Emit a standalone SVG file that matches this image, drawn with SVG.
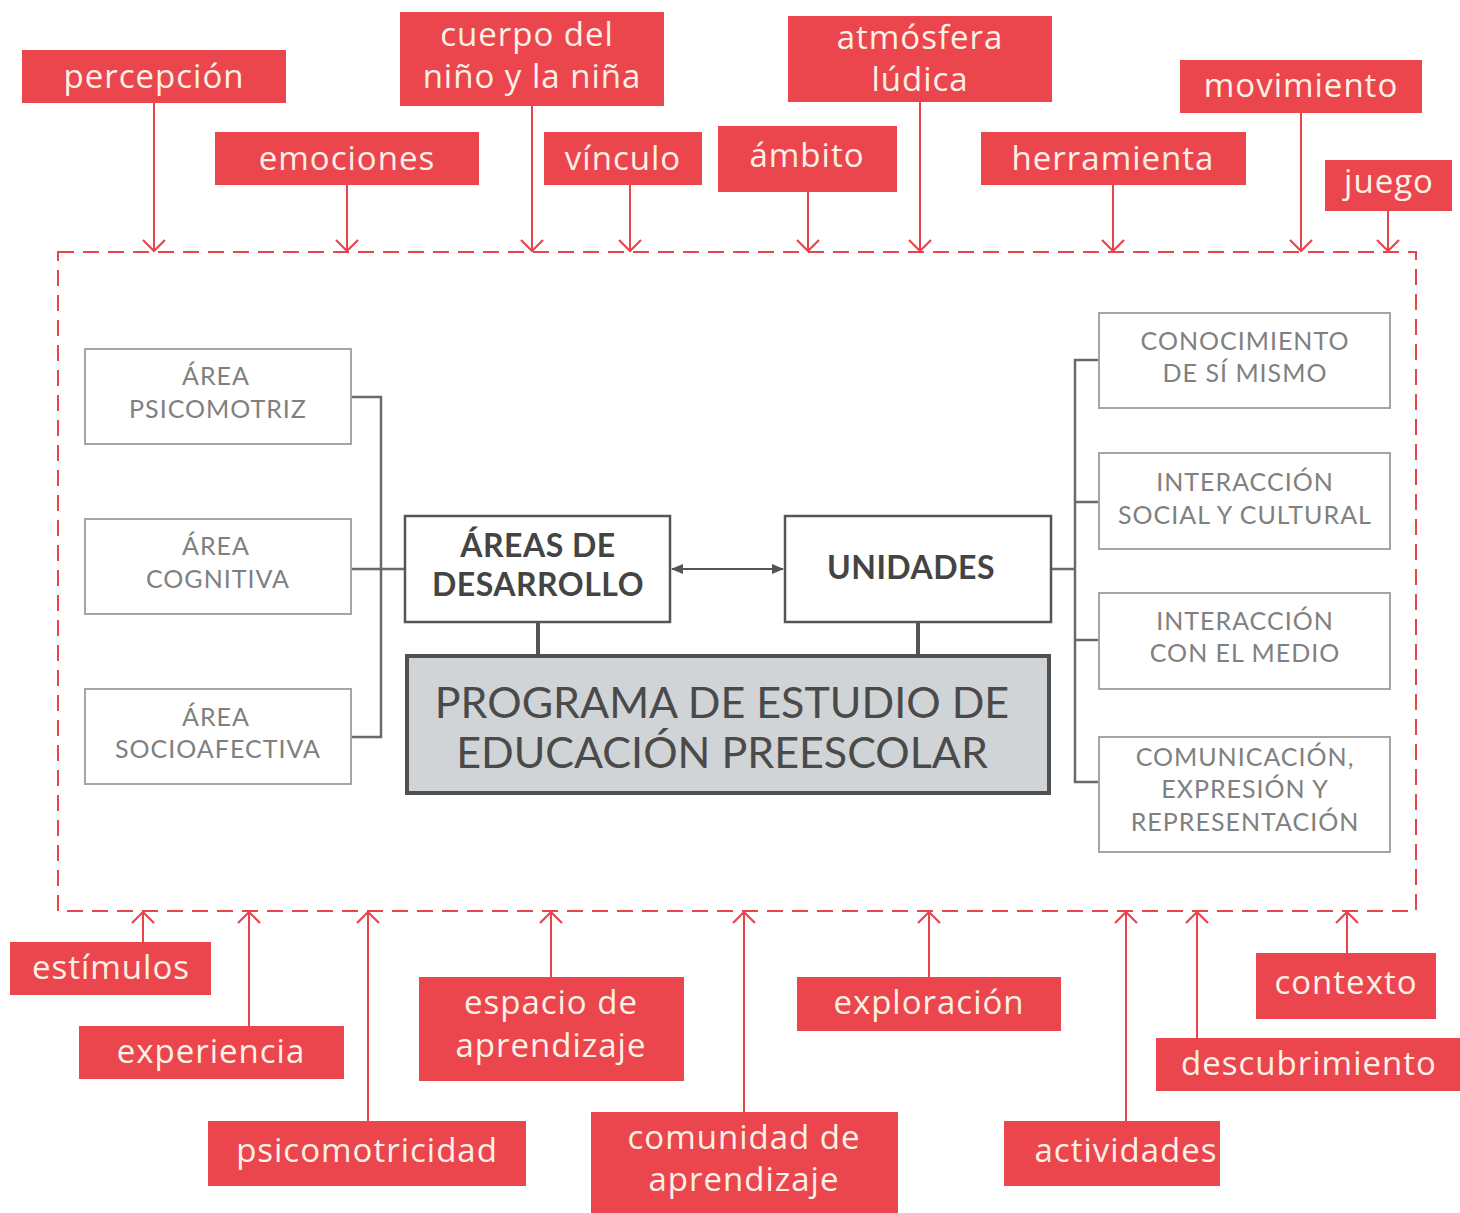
<svg xmlns="http://www.w3.org/2000/svg" width="1460" height="1213" viewBox="0 0 1460 1213">
<defs>
<style>
.lbl rect{fill:#EB464E}
.lbl text{fill:#FCF1E6;font-family:"Open Sans",Lato,sans-serif;font-size:33px;letter-spacing:1px;text-anchor:middle}
.gbox rect{fill:#fff;stroke:#A5A5A5;stroke-width:2}
.gbox text{fill:#808080;font-family:Lato,"Noto Sans",sans-serif;font-size:25px;letter-spacing:1px;text-anchor:middle}
.cbox rect{fill:#fff;stroke:#555;stroke-width:2.5}
.cbox text{fill:#444;font-family:Lato,"Noto Sans",sans-serif;font-weight:bold;font-size:32px;letter-spacing:0.5px;text-anchor:middle}
.red{stroke:#E8444C;stroke-width:2;fill:none}
.gl{stroke:#6a6a6a;stroke-width:2.5;fill:none}
</style>
<marker id="ah" viewBox="0 0 24 24" refX="22" refY="12" markerWidth="24" markerHeight="24" markerUnits="userSpaceOnUse" orient="auto">
<path d="M11,1 L22,12 L11,23" fill="none" stroke="#E8444C" stroke-width="2.2"/>
</marker>
<marker id="dh" viewBox="0 0 12 12" refX="11" refY="6" markerWidth="12" markerHeight="12" markerUnits="userSpaceOnUse" orient="auto-start-reverse">
<path d="M0,1 L12,6 L0,11 Z" fill="#555"/>
</marker>
</defs>
<rect width="1460" height="1213" fill="#fff"/>

<g id="connectors">
<rect x="58" y="252" width="1358" height="659" fill="none" stroke="#E8444C" stroke-width="2" stroke-dasharray="16 9"/>
<g class="red" marker-end="url(#ah)">
<line x1="154" y1="103" x2="154" y2="251"/>
<line x1="347" y1="185" x2="347" y2="251"/>
<line x1="532" y1="106" x2="532" y2="251"/>
<line x1="630" y1="185" x2="630" y2="251"/>
<line x1="808" y1="192" x2="808" y2="251"/>
<line x1="920" y1="102" x2="920" y2="251"/>
<line x1="1113" y1="185" x2="1113" y2="251"/>
<line x1="1301" y1="113" x2="1301" y2="251"/>
<line x1="1388" y1="211" x2="1388" y2="251"/>
<line x1="143" y1="942" x2="143" y2="912"/>
<line x1="249" y1="1026" x2="249" y2="912"/>
<line x1="368" y1="1121" x2="368" y2="912"/>
<line x1="551" y1="977" x2="551" y2="912"/>
<line x1="744" y1="1112" x2="744" y2="912"/>
<line x1="929" y1="977" x2="929" y2="912"/>
<line x1="1126" y1="1121" x2="1126" y2="912"/>
<line x1="1197" y1="1038" x2="1197" y2="912"/>
<line x1="1347" y1="953" x2="1347" y2="912"/>
</g>
<path class="gl" d="M351,397 H381 V737 H351 M351,569 H405"/>
<path class="gl" d="M1099,360 H1075 V782 H1099 M1075,502 H1099 M1075,640 H1099 M1051,569 H1075"/>
<line x1="672" y1="569" x2="783" y2="569" stroke="#555" stroke-width="2" marker-start="url(#dh)" marker-end="url(#dh)"/>
<line x1="538" y1="622" x2="538" y2="656" stroke="#555" stroke-width="4"/>
<line x1="918" y1="622" x2="918" y2="656" stroke="#555" stroke-width="4"/>
</g>

<g id="percepcion" class="lbl"><rect x="22" y="50" width="264" height="53"/><text x="154" y="88">percepción</text></g>
<g id="emociones" class="lbl"><rect x="215" y="132" width="264" height="53"/><text x="347" y="170">emociones</text></g>
<g id="cuerpo" class="lbl"><rect x="400" y="12" width="264" height="94"/><text x="527" y="46">cuerpo del</text><text x="532" y="88">niño y la niña</text></g>
<g id="vinculo" class="lbl"><rect x="544" y="132" width="158" height="53"/><text x="623" y="170">vínculo</text></g>
<g id="ambito" class="lbl"><rect x="718" y="126" width="179" height="66"/><text x="807" y="167">ámbito</text></g>
<g id="atmosfera" class="lbl"><rect x="788" y="16" width="264" height="86"/><text x="920" y="49">atmósfera</text><text x="920" y="91">lúdica</text></g>
<g id="herramienta" class="lbl"><rect x="981" y="132" width="265" height="53"/><text x="1113" y="170">herramienta</text></g>
<g id="movimiento" class="lbl"><rect x="1180" y="60" width="242" height="53"/><text x="1301" y="97">movimiento</text></g>
<g id="juego" class="lbl"><rect x="1325" y="160" width="127" height="51"/><text x="1389" y="193">juego</text></g>

<g id="estimulos" class="lbl"><rect x="10" y="942" width="201" height="53"/><text x="111" y="979">estímulos</text></g>
<g id="experiencia" class="lbl"><rect x="79" y="1026" width="265" height="53"/><text x="211" y="1063">experiencia</text></g>
<g id="psicomotricidad" class="lbl"><rect x="208" y="1121" width="318" height="65"/><text x="367" y="1162">psicomotricidad</text></g>
<g id="espacio" class="lbl"><rect x="419" y="977" width="265" height="104"/><text x="551" y="1014">espacio de</text><text x="551" y="1057">aprendizaje</text></g>
<g id="comunidad" class="lbl"><rect x="591" y="1112" width="307" height="101"/><text x="744" y="1149">comunidad de</text><text x="744" y="1191">aprendizaje</text></g>
<g id="exploracion" class="lbl"><rect x="797" y="977" width="264" height="54"/><text x="929" y="1014">exploración</text></g>
<g id="actividades" class="lbl"><rect x="1004" y="1121" width="216" height="65"/><text x="1126" y="1162">actividades</text></g>
<g id="descubrimiento" class="lbl"><rect x="1156" y="1038" width="304" height="53"/><text x="1309" y="1075">descubrimiento</text></g>
<g id="contexto" class="lbl"><rect x="1256" y="953" width="180" height="66"/><text x="1346" y="994">contexto</text></g>

<g id="area-psicomotriz" class="gbox"><rect x="85" y="349" width="266" height="95"/><text x="216" y="385">ÁREA</text><text x="218" y="418">PSICOMOTRIZ</text></g>
<g id="area-cognitiva" class="gbox"><rect x="85" y="519" width="266" height="95"/><text x="216" y="555">ÁREA</text><text x="218" y="588">COGNITIVA</text></g>
<g id="area-socioafectiva" class="gbox"><rect x="85" y="689" width="266" height="95"/><text x="216" y="726">ÁREA</text><text x="218" y="758">SOCIOAFECTIVA</text></g>

<g id="conocimiento" class="gbox"><rect x="1099" y="313" width="291" height="95"/><text x="1245" y="350">CONOCIMIENTO</text><text x="1245" y="382">DE SÍ MISMO</text></g>
<g id="interaccion-social" class="gbox"><rect x="1099" y="453" width="291" height="96"/><text x="1245" y="491">INTERACCIÓN</text><text x="1245" y="524">SOCIAL Y CULTURAL</text></g>
<g id="interaccion-medio" class="gbox"><rect x="1099" y="593" width="291" height="96"/><text x="1245" y="630">INTERACCIÓN</text><text x="1245" y="662">CON EL MEDIO</text></g>
<g id="comunicacion" class="gbox"><rect x="1099" y="737" width="291" height="115"/><text x="1245" y="766">COMUNICACIÓN,</text><text x="1245" y="798">EXPRESIÓN Y</text><text x="1245" y="831">REPRESENTACIÓN</text></g>

<g id="areas-desarrollo" class="cbox"><rect x="405" y="516" width="265" height="106"/><text x="538" y="557">ÁREAS DE</text><text x="538" y="596">DESARROLLO</text></g>
<g id="unidades" class="cbox"><rect x="785" y="516" width="266" height="106"/><text x="911" y="579">UNIDADES</text></g>

<g id="programa"><rect x="407" y="656" width="642" height="137" fill="#D1D4D7" stroke="#505050" stroke-width="4"/>
<text x="722" y="718" fill="#4a4a4a" font-family="Lato,'Noto Sans',sans-serif" font-size="43" text-anchor="middle">PROGRAMA DE ESTUDIO DE</text>
<text x="722" y="768" fill="#4a4a4a" font-family="Lato,'Noto Sans',sans-serif" font-size="43" text-anchor="middle">EDUCACIÓN PREESCOLAR</text></g>
</svg>
